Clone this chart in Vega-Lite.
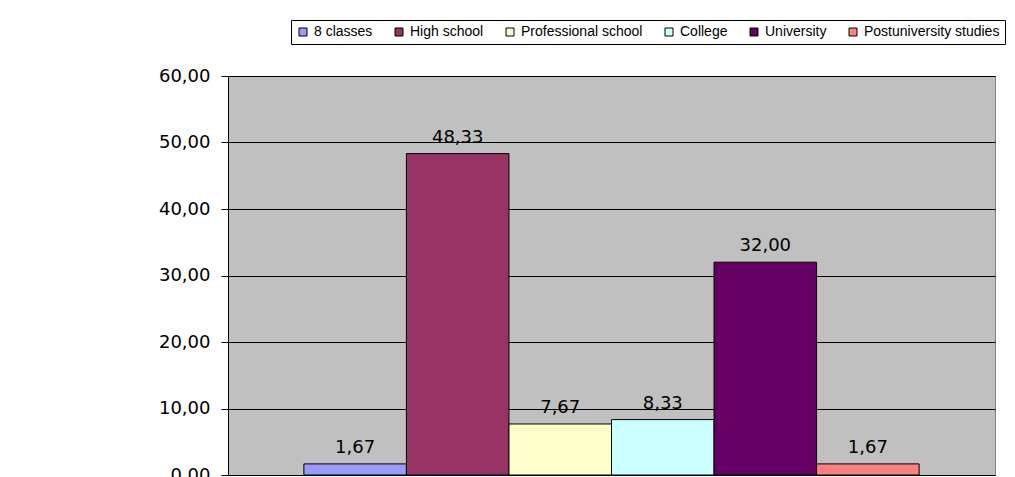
{
  "$schema": "https://vega.github.io/schema/vega-lite/v6.json",
  "autosize": {"type": "none"},
  "width": 767,
  "height": 399,
  "padding": {"left": 228, "top": 76, "right": 20, "bottom": 30},
  "background": "white",
  "config": {
    "locale": {"number": {"decimal": ",", "thousands": ".", "grouping": [3], "currency": ["", ""]}},
    "font": "Liberation Sans",
    "view": {"fill": "#C0C0C0", "stroke": "#808080", "strokeWidth": 1}
  },
  "data": {
    "values": [
      {"level": "8 classes", "pct": 1.67},
      {"level": "High school", "pct": 48.33},
      {"level": "Professional school", "pct": 7.67},
      {"level": "College", "pct": 8.33},
      {"level": "University", "pct": 32.0},
      {"level": "Postuniversity studies", "pct": 1.67}
    ]
  },
  "encoding": {
    "x": {
      "field": "level",
      "type": "nominal",
      "sort": null,
      "axis": null,
      "scale": {"paddingInner": 0, "paddingOuter": 0.74}
    },
    "y": {
      "field": "pct",
      "type": "quantitative",
      "scale": {"domain": [0, 60]},
      "axis": {
        "title": null,
        "values": [0, 10, 20, 30, 40, 50, 60],
        "format": ".2f",
        "labelFont": "DejaVu Sans",
        "labelFontSize": 18,
        "labelColor": "black",
        "labelPadding": 11,
        "tickSize": 7,
        "tickColor": "black",
        "domainColor": "black",
        "gridColor": "black",
        "gridOpacity": 1,
        "grid": true
      }
    }
  },
  "layer": [
    {
      "mark": {"type": "bar", "stroke": "black", "strokeWidth": 1},
      "encoding": {
        "color": {
          "field": "level",
          "type": "nominal",
          "sort": null,
          "scale": {
            "domain": ["8 classes", "High school", "Professional school", "College", "University", "Postuniversity studies"],
            "range": ["#9999FF", "#993366", "#FFFFCC", "#CCFFFF", "#660066", "#FF8080"]
          },
          "legend": {
            "orient": "none",
            "legendX": 63,
            "legendY": -56,
            "direction": "horizontal",
            "columns": 6,
            "title": null,
            "symbolType": "square",
            "symbolSize": 64,
            "symbolStrokeColor": "black",
            "symbolStrokeWidth": 1,
            "labelFontSize": 14,
            "labelColor": "black",
            "labelLimit": 160,
            "columnPadding": 19,
            "strokeColor": "black",
            "fillColor": "white",
            "padding": 5
          }
        }
      }
    },
    {
      "mark": {"type": "text", "baseline": "alphabetic", "dy": -11, "font": "DejaVu Sans", "fontSize": 18, "color": "black"},
      "encoding": {
        "text": {"field": "pct", "type": "quantitative", "format": ".2f"}
      }
    }
  ]
}
